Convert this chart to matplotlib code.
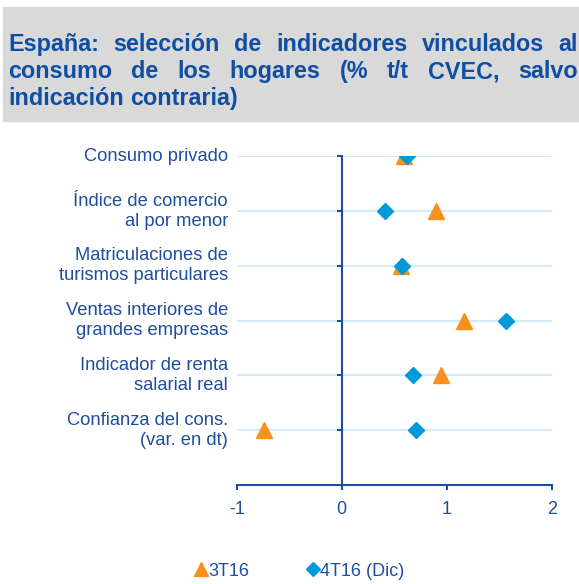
import matplotlib
matplotlib.use("Agg")
import matplotlib.pyplot as plt

plt.rcParams['font.family'] = ['Liberation Sans', 'DejaVu Sans']

# data (% t/t CVEC)
categories = ["Consumo privado",
              "Índice de comercio\nal por menor",
              "Matriculaciones de\nturismos particulares",
              "Ventas interiores de\ngrandes empresas",
              "Indicador de renta\nsalarial real",
              "Confianza del cons.\n(var. en dt)"]
t3_16 = [0.59, 0.90, 0.56, 1.16, 0.95, -0.74]
t4_16 = [0.62, 0.41, 0.57, 1.56, 0.68, 0.71]
series_names = ["3T16", "4T16 (Dic)"]
xticks = [-1, 0, 1, 2]

title_lines = [["España:", "selección", "de", "indicadores", "vinculados", "al"],
               ["consumo", "de", "los", "hogares", "(%", "t/t", "CVEC,", "salvo"],
               ["indicación", "contraria)"]]

W, H = 579, 584
DARK = '#1F4E9F'
TITLE_C = '#0E4EA3'
ORANGE = '#F7901E'
BLUE = '#0099DA'
GRID = '#C8E9F7'

fig = plt.figure(figsize=(W / 100, H / 100), dpi=100)

# grey title box
fig.patches.append(plt.Rectangle((3 / W, 1 - 121 / H), 576 / W, 114 / H,
                                 transform=fig.transFigure, color='#D9D9D9', zorder=0))

ax = fig.add_axes([236.7 / W, 1 - 485 / H, 315 / W, 328.7 / H])
ypos = list(range(len(categories), 0, -1))

for y in ypos:
    ax.axhline(y, color=GRID, lw=1.2, zorder=0)

ax.plot(t3_16, ypos, '^', color=ORANGE, ms=11, ls='none', label=series_names[0], zorder=3)
ax.plot(t4_16, ypos, 'D', color=BLUE, ms=8, ls='none', label=series_names[1], zorder=4)

ax.set_xlim(-1, 2)
ax.set_ylim(0, len(categories))
ax.spines['top'].set_visible(False)
ax.spines['right'].set_visible(False)
ax.spines['left'].set_position(('data', 0))
for s in ('left', 'bottom'):
    ax.spines[s].set_color(DARK)
    ax.spines[s].set_linewidth(1.5)

ax.set_yticks(ypos)
ax.set_yticklabels([])
ax.set_xticks(xticks)
ax.set_xticklabels([str(v) for v in xticks])
ax.tick_params(axis='both', colors=DARK, direction='out', length=3.5, width=1.5,
               labelsize=13, labelcolor=DARK)
ax.tick_params(axis='x', pad=8)
ax.patch.set_visible(False)

for y, lab in zip(ypos, categories):
    ax.text(-0.028, y, lab, transform=ax.get_yaxis_transform(), ha='right', va='center',
            fontsize=13.2, color=DARK, linespacing=1.22)

# legend
fig.legend(loc='center', bbox_to_anchor=(300 / W, 1 - 571 / H), ncol=2, frameon=False,
           handlelength=0.6, handletextpad=0.1, columnspacing=3.2, fontsize=13,
           labelcolor=DARK, markerscale=0.9)

# justified title
fig.canvas.draw()
renderer = fig.canvas.get_renderer()
x0, x1 = 8, 578
baselines = [51, 78, 105]
for i, (words, base) in enumerate(zip(title_lines, baselines)):
    texts = [fig.text(0, 1 - base / H, w, fontsize=16.8, fontweight='bold', color=TITLE_C,
                      va='baseline', ha='left') for w in words]
    widths = [t.get_window_extent(renderer).width for t in texts]
    if i < len(title_lines) - 1:
        gap = (x1 - x0 - sum(widths)) / (len(words) - 1)
    else:
        gap = 6
    x = x0
    for t, w in zip(texts, widths):
        t.set_x(x / W)
        x += w + gap

fig.savefig("out.png", dpi=100)
